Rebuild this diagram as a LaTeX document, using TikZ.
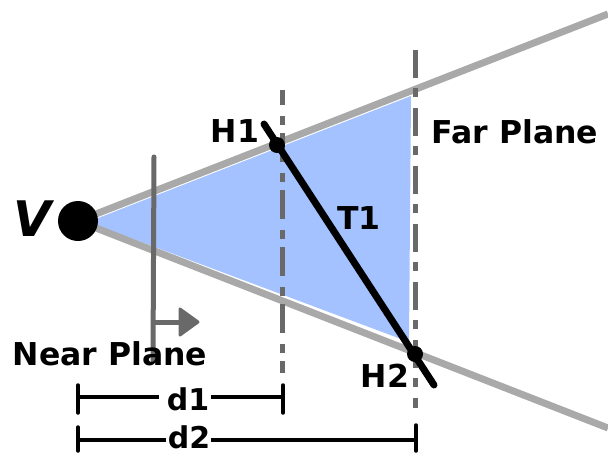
\documentclass[tikz,border=0pt]{standalone}
\usepackage{fontspec}
\setmainfont{DejaVu Sans}
\begin{document}
\begin{tikzpicture}[x=1pt,y=-1pt,
  ray/.style={draw=raygrey,line width=7pt},
  plane/.style={draw=planegrey,line width=5pt},
  tri/.style={draw=black,line width=7pt,line cap=round},
  dim/.style={draw=black,line width=3.5pt},
  tick/.style={draw=black,line width=3.5pt,line cap=round},
  hit/.style={circle,fill=black,inner sep=0pt,minimum size=16pt},
  lab/.style={font=\fontsize{31.5}{31.5}\selectfont\bfseries,text=black,inner sep=0pt,anchor=base},
  dlab/.style={font=\fontsize{30}{30}\selectfont\bfseries,text=black,inner sep=0pt,anchor=base}]
\definecolor{raygrey}{HTML}{A9A9A9}
\definecolor{planegrey}{HTML}{696969}
\definecolor{frustum}{HTML}{A3C2FF}
\useasboundingbox (0,0) rectangle (608,453);
\coordinate (vc) at (78,221);
\coordinate (ru) at (608,14);
\coordinate (rl) at (608,428);
\coordinate (fa) at (88,222);
\coordinate (fb) at (411,96);
\coordinate (fc) at (409,342);
\fill[frustum] (fa) -- (fb) -- (fc) -- cycle;
\draw[ray] (vc) -- (ru);
\draw[ray] (vc) -- (rl);
% dash-dot planes
\coordinate (p1a) at (282,90);
\coordinate (p1b) at (282,373);
\coordinate (p2a) at (415.5,50);
\coordinate (p2b) at (415.5,408);
\draw[plane,dash pattern=on 29pt off 11pt on 9pt off 8pt,dash phase=14pt] (p1a) -- (p1b);
\draw[plane,dash pattern=on 28pt off 10pt on 9pt off 11pt] (p2a) -- (p2b);
% near plane
\coordinate (na) at (154,157);
\coordinate (nb) at (153,360);
\coordinate (nm) at (153,322);
\coordinate (nt) at (180,322);
\draw[plane,line cap=round] (na) -- (nb);
\draw[plane] (nm) -- (nt);
\fill[planegrey,draw=planegrey,line width=3pt,line join=round] (180,309) -- (198,322) -- (180,335) -- cycle;
% segment
\coordinate (ta) at (264,124);
\coordinate (tb) at (434,385);
\draw[tri] (ta) -- (tb);
\node[hit] (h1p) at (277,145) {};
\node[hit] (h2p) at (415,354) {};
\node[circle,fill=black,inner sep=0pt,minimum size=40pt] (V) at (vc) {};
% labels
\node[font=\fontsize{49}{49}\selectfont\bfseries\itshape,inner sep=0pt,anchor=base] (vl) at (32,236) {V};
\node[lab] (h1) at (235,142) {H1};
\node[lab] (h2) at (385,387) {H2};
\node[lab] (t1) at (359,229) {T1};
\node[lab] (far) at (515,143) {Far Plane};
\node[lab] (near) at (110,365) {Near Plane};
\node[dlab] (d1) at (188,410) {d1};
\node[dlab] (d2) at (189,448) {d2};
% dimensions
\coordinate (a1) at (78,397);
\coordinate (b1) at (283,397);
\coordinate (a2) at (78,440);
\coordinate (b2) at (416,440);
\draw[dim] (a1) -- (159,397);
\draw[dim] (211,397) -- (b1);
\draw[dim] (a2) -- (166,440);
\draw[dim] (211,440) -- (b2);
\draw[tick] (78,385) -- (78,413);
\draw[tick] (283,385) -- (283,413);
\draw[tick] (78,427) -- (78,451);
\draw[tick] (416,425) -- (416,451);
\end{tikzpicture}
\end{document}
